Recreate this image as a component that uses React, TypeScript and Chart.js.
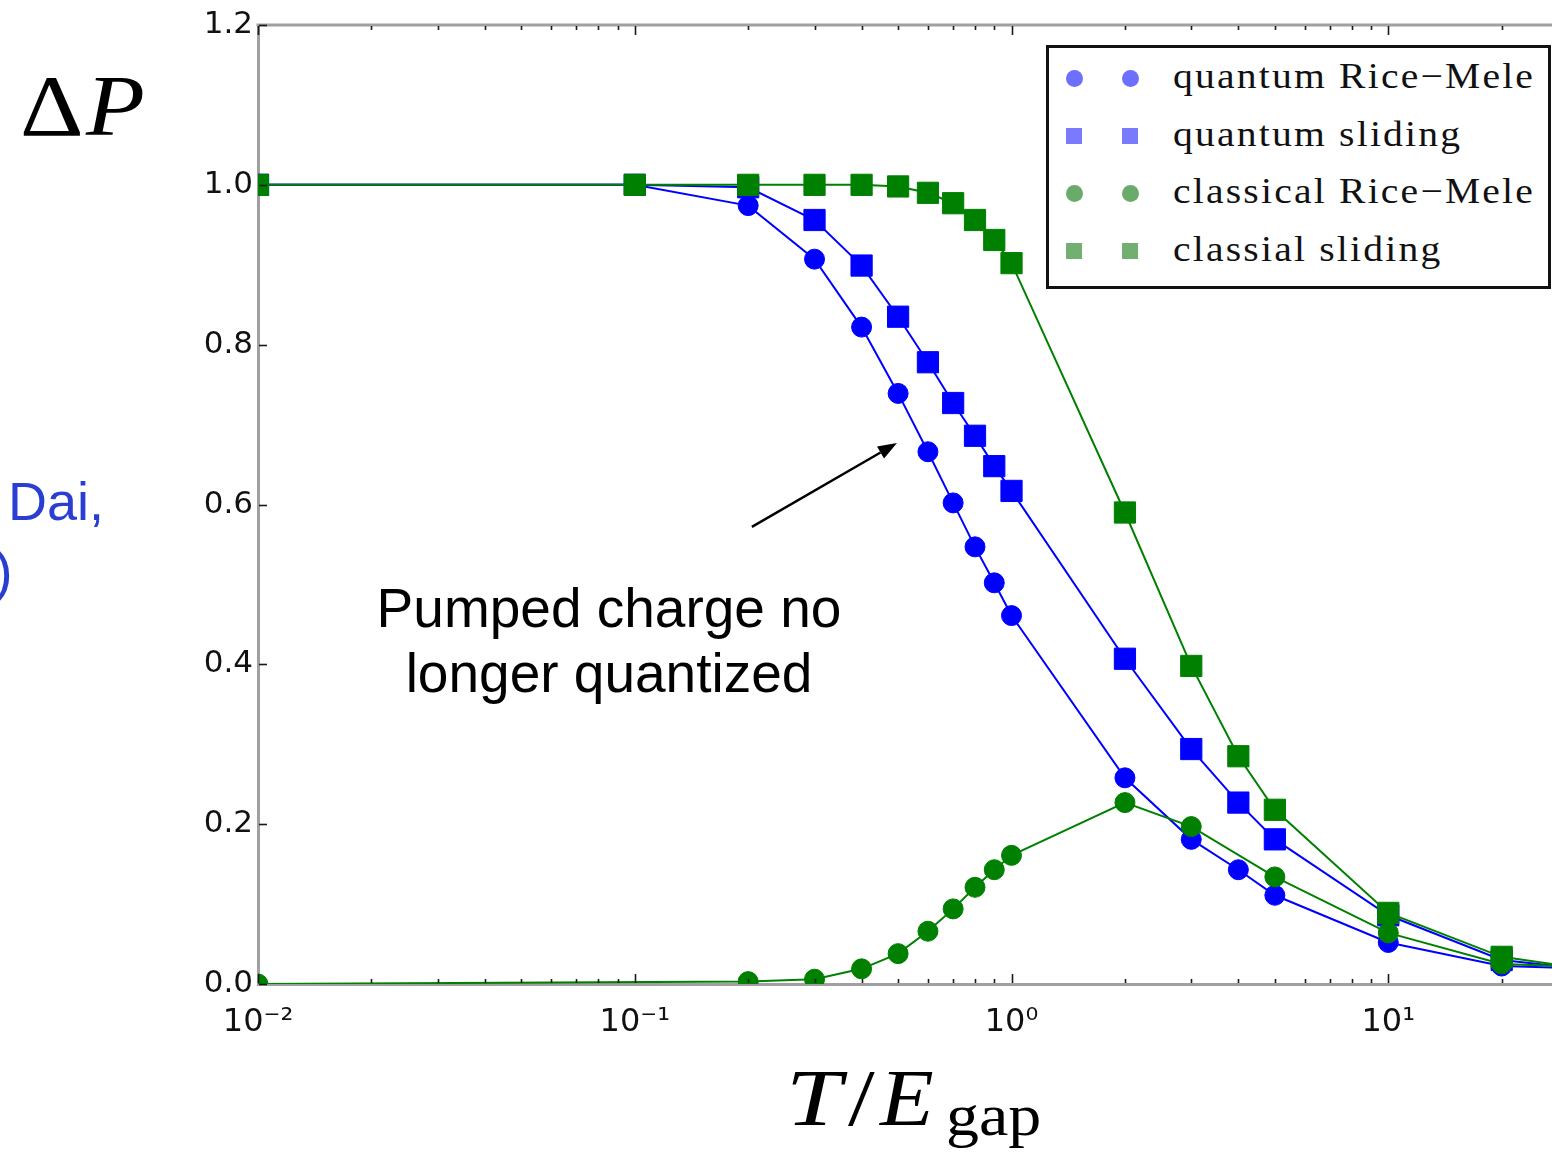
import React, { useEffect, useRef } from 'react';
import { Chart, registerables } from 'chart.js';

Chart.register(...registerables);

// ---------------- data ----------------
const T_OVER_EGAP = [0.01, 0.1, 0.2, 0.3, 0.4, 0.5, 0.6, 0.7, 0.8, 0.9, 1, 2, 3, 4, 5, 10, 20, 30];
const QUANTUM_RICE_MELE = [1.0, 1.0, 0.974, 0.907, 0.822, 0.739, 0.666, 0.602, 0.547, 0.502, 0.461, 0.258, 0.181, 0.143, 0.111, 0.052, 0.0225, 0.02];
const QUANTUM_SLIDING = [1.0, 1.0, 0.997, 0.956, 0.899, 0.835, 0.778, 0.727, 0.686, 0.648, 0.617, 0.407, 0.294, 0.227, 0.181, 0.086, 0.03, 0.021];
const CLASSICAL_RICE_MELE: (number | null)[] = [0, null, 0.003, 0.006, 0.019, 0.038, 0.066, 0.094, 0.121, 0.143, 0.161, 0.227, 0.197, null, 0.134, 0.064, 0.025, 0.022];
const CLASSICAL_SLIDING = [1.0, 1.0, 1.0, 1.0, 1.0, 0.998, 0.99, 0.977, 0.956, 0.931, 0.902, 0.59, 0.398, 0.285, 0.218, 0.089, 0.034, 0.022];

const SERIES_LABELS = ['quantum Rice\u2212Mele', 'quantum sliding', 'classical Rice\u2212Mele', 'classial sliding'];

const X_MIN = 0.01;
const X_MAX = 27.2;
const Y_MIN = 0;
const Y_MAX = 1.2;
const X_MAJOR_TICKS = [0.01, 0.1, 1, 10];
const X_TICK_LABELS = ['10\u207B\u00B2', '10\u207B\u00B9', '10\u2070', '10\u00B9'];
const Y_TICKS = [0, 0.2, 0.4, 0.6, 0.8, 1.0, 1.2];

// annotation arrow (data coordinates)
const ARROW_TAIL = { x: 0.2046, y: 0.572 };
const ARROW_HEAD = { x: 0.4966, y: 0.677 };

// ---------------- styles ----------------
const BLUE = '#0000ff';
const GREEN = '#008000';
const AXIS_COLOR = '#a0a0a0';

const toPoints = (ys: (number | null)[]) =>
  T_OVER_EGAP.map((x, i) => ({ x, y: ys[i] })).filter((p) => p.y !== null) as { x: number; y: number }[];

const minorTicks = (): number[] => {
  const out: number[] = [];
  for (let e = -2; e <= 1; e++) {
    for (let m = 2; m <= 9; m++) {
      const v = m * Math.pow(10, e);
      if (v > X_MIN && v < X_MAX) out.push(v);
    }
  }
  return out;
};

const framePlugin = {
  id: 'frameTicksArrow',
  afterDraw(chart: any) {
    const { ctx, chartArea: a, scales } = chart;
    const xs = scales.x;
    const ys = scales.y;
    ctx.save();
    // top frame line
    ctx.strokeStyle = AXIS_COLOR;
    ctx.lineWidth = 3;
    ctx.beginPath();
    ctx.moveTo(a.left - 1.5, a.top);
    ctx.lineTo(a.right, a.top);
    ctx.stroke();

    // inward ticks
    ctx.strokeStyle = '#1a1a1a';
    ctx.lineWidth = 1.6;
    const seg = (x1: number, y1: number, x2: number, y2: number) => {
      ctx.beginPath();
      ctx.moveTo(x1, y1);
      ctx.lineTo(x2, y2);
      ctx.stroke();
    };
    for (const v of X_MAJOR_TICKS) {
      const px = Math.round(xs.getPixelForValue(v)) + 0.5;
      seg(px, a.bottom - 1, px, a.bottom - 10);
      seg(px, a.top + 1, px, a.top + 10);
    }
    for (const v of minorTicks()) {
      const px = Math.round(xs.getPixelForValue(v)) + 0.5;
      seg(px, a.bottom - 1, px, a.bottom - 5);
      seg(px, a.top + 1, px, a.top + 5);
    }
    for (const v of Y_TICKS) {
      const py = Math.round(ys.getPixelForValue(v)) + 0.5;
      seg(a.left + 1, py, a.left + 9, py);
    }

    // annotation arrow
    const x1 = xs.getPixelForValue(ARROW_TAIL.x);
    const y1 = ys.getPixelForValue(ARROW_TAIL.y);
    const x2 = xs.getPixelForValue(ARROW_HEAD.x);
    const y2 = ys.getPixelForValue(ARROW_HEAD.y);
    const ang = Math.atan2(y2 - y1, x2 - x1);
    const headLen = 19;
    const headHalf = 7;
    const bx = x2 - headLen * Math.cos(ang);
    const by = y2 - headLen * Math.sin(ang);
    ctx.strokeStyle = '#000';
    ctx.fillStyle = '#000';
    ctx.lineWidth = 2.4;
    seg(x1, y1, bx, by);
    ctx.beginPath();
    ctx.moveTo(x2, y2);
    ctx.lineTo(bx + headHalf * Math.sin(ang), by - headHalf * Math.cos(ang));
    ctx.lineTo(bx - headHalf * Math.sin(ang), by + headHalf * Math.cos(ang));
    ctx.closePath();
    ctx.fill();
    ctx.restore();
  },
};

const abs = (left: number, top: number, extra: React.CSSProperties = {}): React.CSSProperties => ({
  position: 'absolute',
  left,
  top,
  whiteSpace: 'nowrap',
  margin: 0,
  ...extra,
});

const LEGEND_MARKERS = [
  { shape: 'circle', color: '#6e6eff' },
  { shape: 'square', color: '#7a7aff' },
  { shape: 'circle', color: '#6aaa6a' },
  { shape: 'square', color: '#72b072' },
];

export default function App() {
  const canvasRef = useRef<HTMLCanvasElement | null>(null);

  useEffect(() => {
    document.body.style.overflow = 'hidden';
    const canvas = canvasRef.current;
    if (!canvas) return;
    const mk = (label: string, data: (number | null)[], color: string, style: string, radius: number, order: number) => ({
      label,
      data: toPoints(data),
      borderColor: color,
      backgroundColor: color,
      borderWidth: 2,
      pointStyle: style,
      pointRadius: radius,
      pointBorderWidth: 1,
      pointBackgroundColor: color,
      pointBorderColor: color,
      tension: 0,
      spanGaps: true,
      order,
    });
    const chart = new Chart(canvas, {
      type: 'line',
      data: {
        datasets: [
          mk(SERIES_LABELS[0], QUANTUM_RICE_MELE, BLUE, 'circle', 10, 3),
          mk(SERIES_LABELS[1], QUANTUM_SLIDING, BLUE, 'rect', 15, 2),
          mk(SERIES_LABELS[2], CLASSICAL_RICE_MELE, GREEN, 'circle', 10, 1),
          mk(SERIES_LABELS[3], CLASSICAL_SLIDING, GREEN, 'rect', 15, 0),
        ] as any,
      },
      options: {
        animation: false,
        responsive: false,
        devicePixelRatio: 1,
        layout: { autoPadding: false, padding: { left: 0, right: 0, top: 25, bottom: 0 } },
        plugins: { legend: { display: false }, tooltip: { enabled: false } },
        scales: {
          x: {
            type: 'logarithmic',
            min: X_MIN,
            max: X_MAX,
            grid: { display: false, drawTicks: false },
            border: { display: true, color: AXIS_COLOR, width: 3 },
            afterBuildTicks: (scale: any) => {
              scale.ticks = X_MAJOR_TICKS.map((v) => ({ value: v }));
            },
            afterFit: (scale: any) => {
              scale.height = 1152 - 984;
            },
            ticks: {
              autoSkip: false,
              maxRotation: 0,
              minRotation: 0,
              padding: 19,
              color: '#111',
              font: { family: 'DejaVu Sans', size: 32 },
              callback: (_v: any, i: number) => X_TICK_LABELS[i],
            },
          },
          y: {
            type: 'linear',
            min: Y_MIN,
            max: Y_MAX,
            grid: { display: false, drawTicks: false },
            border: { display: true, color: AXIS_COLOR, width: 3 },
            afterBuildTicks: (scale: any) => {
              scale.ticks = Y_TICKS.map((v) => ({ value: v }));
            },
            afterFit: (scale: any) => {
              scale.width = 258;
            },
            ticks: {
              padding: 5,
              color: '#111',
              font: { family: 'DejaVu Sans', size: 31 },
              callback: (v: any) => Number(v).toFixed(1),
            },
          },
        },
      } as any,
      plugins: [framePlugin],
    });
    return () => chart.destroy();
  }, []);

  const serif = '"Liberation Serif", "Times New Roman", serif';
  const sans = '"Liberation Sans", Arial, Helvetica, sans-serif';

  return (
    <div style={{ position: 'absolute', left: 0, top: 0, width: 1552, height: 1152, overflow: 'hidden', background: '#fff' }}>
      <canvas ref={canvasRef} width={1552} height={1152} style={{ position: 'absolute', left: 0, top: 0 }} />

      {/* y-axis label: Delta P */}
      <span style={abs(20, 63, { fontFamily: serif, fontSize: 86, lineHeight: '86px', color: '#000', transform: 'scaleX(1.15)', transformOrigin: 'left' })}>
        {'\u0394'}
      </span>
      <span style={abs(86, 63, { fontFamily: serif, fontSize: 86, lineHeight: '86px', fontStyle: 'italic', color: '#000', transform: 'scaleX(1.12)', transformOrigin: 'left' })}>
        P
      </span>

      {/* x-axis label: T / E_gap */}
      <span style={abs(786, 1058, { fontFamily: serif, fontSize: 80, lineHeight: '80px', fontStyle: 'italic', color: '#000', transform: 'scaleX(1.25)', transformOrigin: 'left' })}>T</span>
      <span style={abs(848, 1058, { fontFamily: serif, fontSize: 80, lineHeight: '80px', color: '#000', transform: 'scaleX(1.2)', transformOrigin: 'left' })}>/</span>
      <span style={abs(880, 1058, { fontFamily: serif, fontSize: 80, lineHeight: '80px', fontStyle: 'italic', color: '#000', transform: 'scaleX(1.1)', transformOrigin: 'left' })}>E</span>
      <span style={abs(946, 1085, { fontFamily: serif, fontSize: 60, lineHeight: '60px', color: '#000', transform: 'scaleX(1.1)', transformOrigin: 'left' })}>gap</span>

      {/* annotation text */}
      <div
        style={abs(609, 576, {
          transform: 'translateX(-50%)',
          textAlign: 'center',
          fontFamily: sans,
          fontSize: 55,
          lineHeight: '65px',
          color: '#000',
        })}
      >
        Pumped charge no
        <br />
        longer quantized
      </div>

      {/* cut-off slide text */}
      <span style={abs(8, 474, { fontFamily: sans, fontSize: 54, lineHeight: '54px', color: '#2a3fd2' })}>Dai,</span>
      <span style={abs(-6, 543, { fontFamily: sans, fontSize: 56, lineHeight: '56px', color: '#2a3fd2' })}>)</span>

      {/* legend */}
      <div
        style={{
          position: 'absolute',
          left: 1046,
          top: 45,
          width: 505,
          height: 244,
          boxSizing: 'border-box',
          border: '3px solid #111',
          background: '#fff',
        }}
      />
      {SERIES_LABELS.map((label, i) => {
        const cy = 78 + i * 57.5;
        const m = LEGEND_MARKERS[i];
        const size = m.shape === 'circle' ? 17 : 16;
        const marker = (cx: number) => (
          <span
            key={cx}
            style={{
              position: 'absolute',
              left: cx - size / 2,
              top: cy - size / 2,
              width: size,
              height: size,
              background: m.color,
              borderRadius: m.shape === 'circle' ? '50%' : 0,
            }}
          />
        );
        return (
          <React.Fragment key={label}>
            {marker(1074)}
            {marker(1130)}
            <span
              style={abs(1173, cy - 22, {
                fontFamily: serif,
                fontSize: 36,
                lineHeight: '40px',
                letterSpacing: '2px',
                color: '#111',
                transform: 'scaleX(1.1)',
                transformOrigin: 'left',
              })}
            >
              {label}
            </span>
          </React.Fragment>
        );
      })}
    </div>
  );
}
